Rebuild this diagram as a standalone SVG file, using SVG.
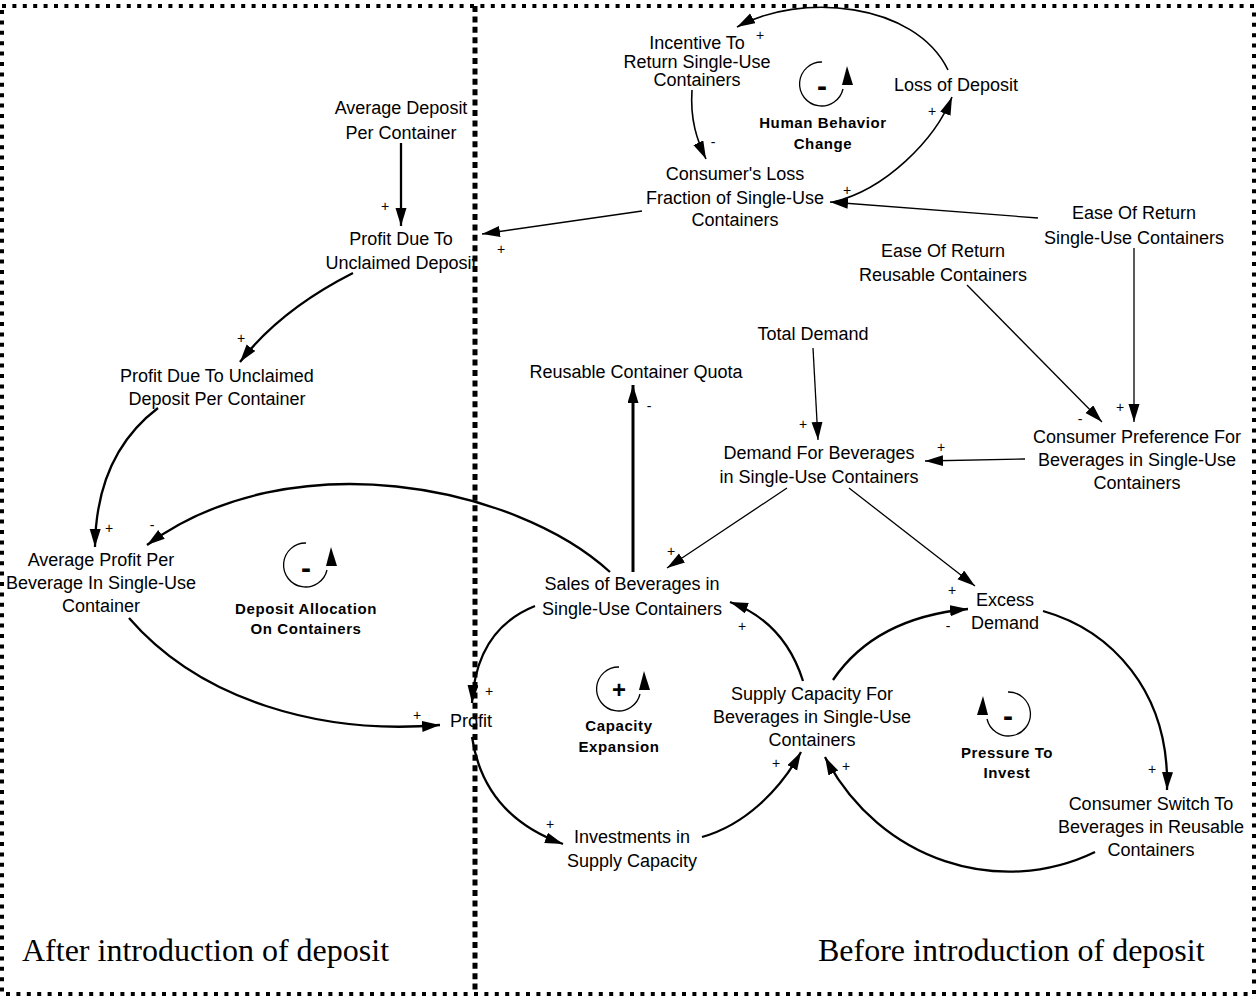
<svg xmlns="http://www.w3.org/2000/svg" xmlns:xlink="http://www.w3.org/1999/xlink" width="1257" height="998" viewBox="0 0 1257 998">
<style>
.t{font-family:"Liberation Sans",Arial,sans-serif;font-size:18px;fill:#000;text-anchor:middle}
.lb{font-family:"Liberation Sans",Arial,sans-serif;font-size:15px;font-weight:bold;letter-spacing:0.6px;fill:#000;text-anchor:middle}
.s{font-family:"Liberation Sans",Arial,sans-serif;font-size:14px;fill:#000;text-anchor:middle}
.big{font-family:"Liberation Sans",Arial,sans-serif;font-weight:bold;fill:#000;text-anchor:middle}
.cap{font-family:"Liberation Serif","Times New Roman",serif;font-size:32px;fill:#000}
.thick{fill:none;stroke:#000;stroke-width:2.3;marker-end:url(#ah)}
.thin{fill:none;stroke:#000;stroke-width:1.3;marker-end:url(#ah)}
.med{fill:none;stroke:#000;stroke-width:1.6;marker-end:url(#ah)}
.loop{fill:none;stroke:#000;stroke-width:1.3}
</style>
<defs>
<marker id="ah" markerUnits="userSpaceOnUse" markerWidth="20" markerHeight="12" refX="18" refY="5.5" orient="auto">
<path d="M0,0 L18,5.5 L0,11 z" fill="#000"/>
</marker>
<g id="loopR">
<path class="loop" d="M0,-22 A22,22 0 1,0 21,5"/>
<path d="M25,-18 L31,1 L20,1 z" fill="#000"/>
</g>
</defs>
<rect width="1257" height="998" fill="#fff"/>

<g id="connectors">
<path class="thick" d="M401,143 L401,226"/>
<path class="thick" d="M353,273 Q280,310 240,362"/>
<path class="thick" d="M158,408 Q96,455 95,547"/>
<path class="thick" d="M610,572 C515,485 290,440 147,545"/>
<path class="thick" d="M129,618 C200,700 320,735 440,725"/>
<path class="thick" d="M535,606 C500,620 475,650 472,703"/>
<path class="thick" d="M472,737 C480,790 510,825 563,844"/>
<path class="thick" d="M702,837 C745,825 780,790 801,752"/>
<path class="thick" d="M803,681 C790,640 765,615 730,602"/>
<path class="thick" d="M833,680 C860,640 905,615 968,609"/>
<path class="thick" d="M1043,611 C1110,630 1170,690 1167,790"/>
<path class="thick" d="M1095,852 C1000,898 880,862 825,757"/>
<path class="thick" style="stroke-width:3" d="M633,572 L633,385"/>
<path class="med" d="M948,70 C915,2 800,-8 737,27"/>
<path class="med" d="M692,90 C690,120 697,140 706,159"/>
<path class="med" d="M833,202 C885,190 935,140 952,97"/>
<path class="thin" d="M1038,218 L830,202"/>
<path class="thin" d="M642,211 L482,234"/>
<path class="thin" d="M967,285 L1102,422"/>
<path class="thin" d="M1134,248 L1134,422"/>
<path class="thin" d="M813,348 L818,440"/>
<path class="thin" d="M1025,459 L925,461"/>
<path class="thin" d="M787,488 L667,568"/>
<path class="thin" d="M849,488 L975,586"/>
</g>

<g id="polarity">
<text class="s" x="760" y="40">+</text>
<text class="s" x="713" y="147">-</text>
<text class="s" x="932" y="116">+</text>
<text class="s" x="847" y="195">+</text>
<text class="s" x="385" y="211">+</text>
<text class="s" x="501" y="254">+</text>
<text class="s" x="241" y="343">+</text>
<text class="s" x="649" y="411">-</text>
<text class="s" x="803" y="429">+</text>
<text class="s" x="941" y="452">+</text>
<text class="s" x="1080" y="424">-</text>
<text class="s" x="1120" y="412">+</text>
<text class="s" x="109" y="533">+</text>
<text class="s" x="152" y="530">-</text>
<text class="s" x="671" y="556">+</text>
<text class="s" x="489" y="696">+</text>
<text class="s" x="417" y="720">+</text>
<text class="s" x="742" y="631">+</text>
<text class="s" x="952" y="595">+</text>
<text class="s" x="948" y="631">-</text>
<text class="s" x="550" y="829">+</text>
<text class="s" x="776" y="768">+</text>
<text class="s" x="846" y="771">+</text>
<text class="s" x="1152" y="774">+</text>
</g>

<g id="incentive"><text class="t" x="697" y="49">Incentive To</text><text class="t" x="697" y="68">Return Single-Use</text><text class="t" x="697" y="86">Containers</text></g>
<g id="loss-of-deposit"><text class="t" x="956" y="91">Loss of Deposit</text></g>
<g id="consumers-loss"><text class="t" x="735" y="180">Consumer's Loss</text><text class="t" x="735" y="204">Fraction of Single-Use</text><text class="t" x="735" y="226">Containers</text></g>
<g id="average-deposit"><text class="t" x="401" y="114">Average Deposit</text><text class="t" x="401" y="139">Per Container</text></g>
<g id="profit-unclaimed"><text class="t" x="401" y="245">Profit Due To</text><text class="t" x="401" y="269">Unclaimed Deposit</text></g>
<g id="profit-unclaimed-per-container"><text class="t" x="217" y="382">Profit Due To Unclaimed</text><text class="t" x="217" y="405">Deposit Per Container</text></g>
<g id="average-profit"><text class="t" x="101" y="566">Average Profit Per</text><text class="t" x="101" y="589">Beverage In Single-Use</text><text class="t" x="101" y="612">Container</text></g>
<g id="profit"><text class="t" x="471" y="727">Profit</text></g>
<g id="sales"><text class="t" x="632" y="590">Sales of Beverages in</text><text class="t" x="632" y="615">Single-Use Containers</text></g>
<g id="quota"><text class="t" x="636" y="378">Reusable Container Quota</text></g>
<g id="total-demand"><text class="t" x="813" y="340">Total Demand</text></g>
<g id="demand"><text class="t" x="819" y="459">Demand For Beverages</text><text class="t" x="819" y="483">in Single-Use Containers</text></g>
<g id="ease-su"><text class="t" x="1134" y="219">Ease Of Return</text><text class="t" x="1134" y="244">Single-Use Containers</text></g>
<g id="ease-reusable"><text class="t" x="943" y="257">Ease Of Return</text><text class="t" x="943" y="281">Reusable Containers</text></g>
<g id="preference"><text class="t" x="1137" y="443">Consumer Preference For</text><text class="t" x="1137" y="466">Beverages in Single-Use</text><text class="t" x="1137" y="489">Containers</text></g>
<g id="investments"><text class="t" x="632" y="843">Investments in</text><text class="t" x="632" y="867">Supply Capacity</text></g>
<g id="supply"><text class="t" x="812" y="700">Supply Capacity For</text><text class="t" x="812" y="723">Beverages in Single-Use</text><text class="t" x="812" y="746">Containers</text></g>
<g id="excess"><text class="t" x="1005" y="606">Excess</text><text class="t" x="1005" y="629">Demand</text></g>
<g id="switch"><text class="t" x="1151" y="810">Consumer Switch To</text><text class="t" x="1151" y="833">Beverages in Reusable</text><text class="t" x="1151" y="856">Containers</text></g>

<g id="loop-human">
<use xlink:href="#loopR" transform="translate(822,84)"/>
<text class="big" x="822" y="96" font-size="30">-</text>
<text class="lb" x="823" y="128">Human Behavior</text><text class="lb" x="823" y="149">Change</text>
</g>
<g id="loop-deposit">
<use xlink:href="#loopR" transform="translate(306,565)"/>
<text class="big" x="306" y="578" font-size="30">-</text>
<text class="lb" x="306" y="614">Deposit Allocation</text><text class="lb" x="306" y="634">On Containers</text>
</g>
<g id="loop-capacity">
<use xlink:href="#loopR" transform="translate(619,689)"/>
<text class="big" x="619" y="698" font-size="24">+</text>
<text class="lb" x="619" y="731">Capacity</text><text class="lb" x="619" y="752">Expansion</text>
</g>
<g id="loop-pressure">
<use xlink:href="#loopR" transform="translate(1008,714) scale(-1,1)"/>
<text class="big" x="1008" y="726" font-size="30">-</text>
<text class="lb" x="1007" y="758">Pressure To</text><text class="lb" x="1007" y="778">Invest</text>
</g>

<g id="captions">
<text class="cap" x="22" y="961">After introduction of deposit</text>
<text class="cap" x="818" y="961">Before introduction of deposit</text>
</g>

<g id="borders">
<rect x="2" y="6" width="1252" height="988" fill="none" stroke="#000" stroke-width="4" stroke-dasharray="4 6.4"/>
<line x1="475" y1="6" x2="475" y2="994" stroke="#000" stroke-width="5" stroke-dasharray="6 4.4"/>
</g>
</svg>
